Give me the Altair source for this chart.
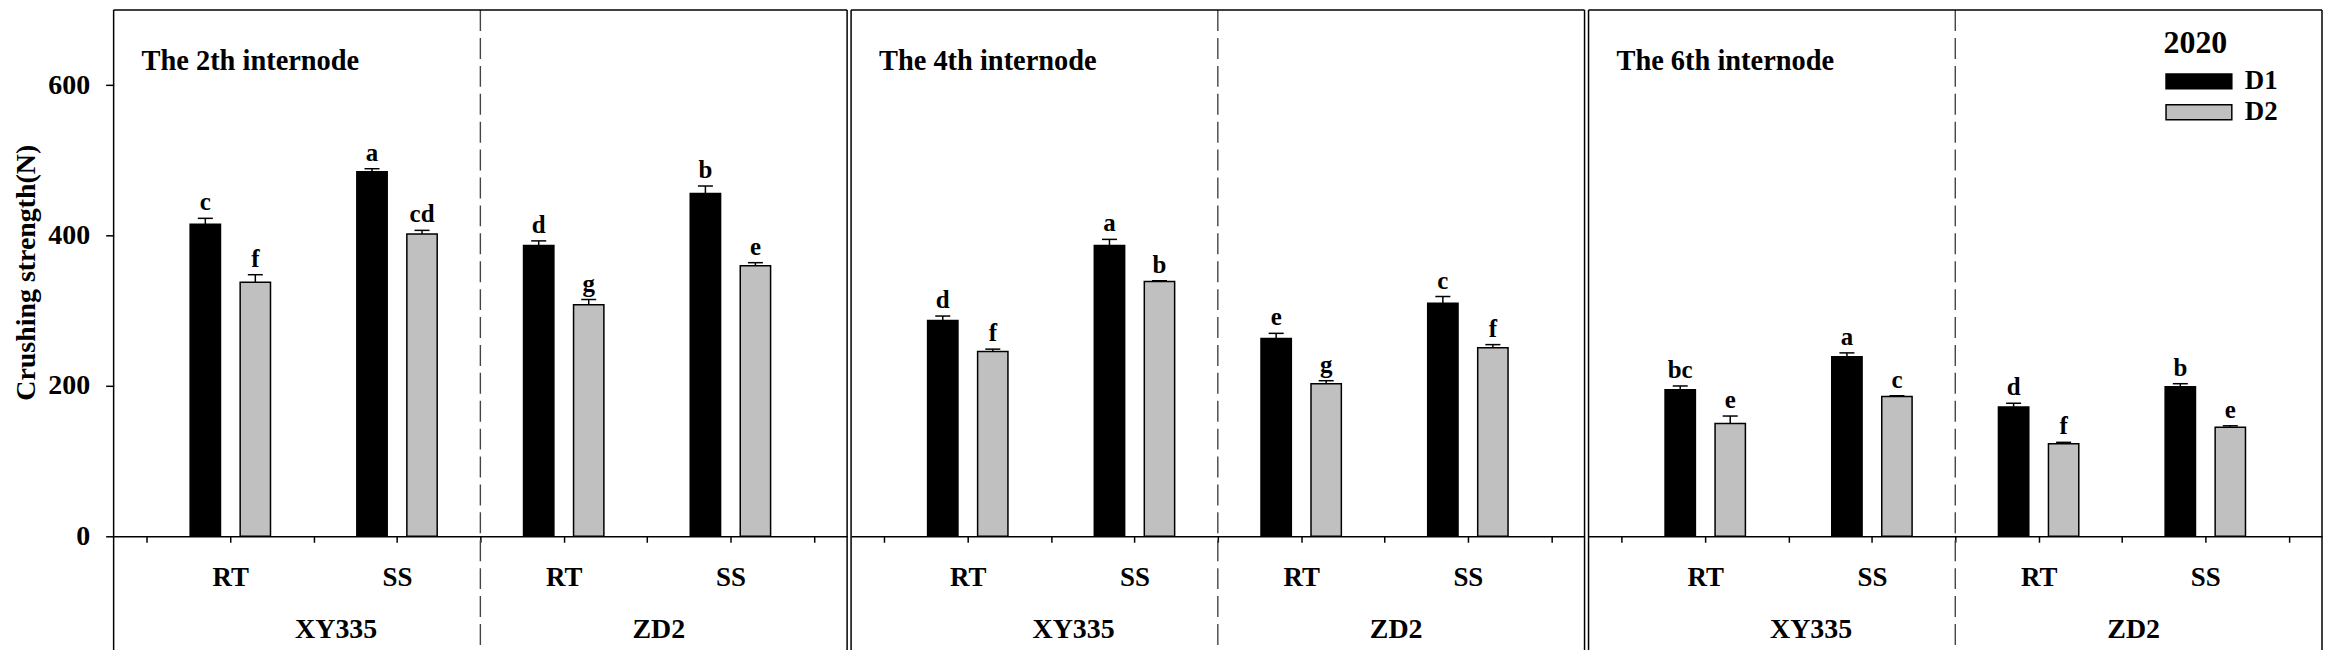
import altair as alt
import pandas as pd

# ---------------- data ----------------
panel_titles = ["The 2th internode", "The 4th internode", "The 6th internode"]
cultivars = ["XY335", "XY335", "ZD2", "ZD2"]
tillage = ["RT", "SS", "RT", "SS"]
densities = ["D1", "D2"]

d1_values = [[415, 485, 387, 456], [287, 387, 263, 310], [195, 239, 172, 199]]
d1_errors = [[8, 4, 6, 10], [6, 8, 7, 9], [5, 5, 5, 4]]
d1_letters = [["c", "a", "d", "b"], ["d", "a", "e", "c"], ["bc", "a", "d", "b"]]

d2_values = [[338, 402, 308, 360], [246, 339, 203, 251], [150, 186, 123, 145]]
d2_errors = [[10, 5, 7, 4], [3, 1, 4, 4], [10, 1, 2, 2]]
d2_letters = [["f", "cd", "g", "e"], ["f", "b", "g", "f"], ["e", "c", "f", "e"]]

group_names = ["XY335", "ZD2"]
y_ticks = [0, 200, 400, 600]
legend_title = "2020"

# ---------------- layout constants ----------------
FONT = "Liberation Serif"
X_DOMAIN = [0.6, 9.4]
Y_DOMAIN = [-151.1, 700]
PANEL_W = 736
PANEL_H = 642
BAR_OFFSET = 0.3
BAR_HALF = 0.182
CAP_HALF = 0.09
GROUP_X = [3.27, 7.14]
GROUP_Y = -124.6
DIVIDER_X = 5

xscale = alt.Scale(domain=X_DOMAIN, nice=False, zero=False)
yscale = alt.Scale(domain=Y_DOMAIN, nice=False, zero=False)
cscale = alt.Scale(domain=densities, range=["#000000", "#c0c0c0"])

x_axis = alt.Axis(
    values=list(range(1, 10)),
    labelExpr="datum.value == 2 || datum.value == 6 ? 'RT' : (datum.value == 4 || datum.value == 8 ? 'SS' : '')",
    title=None, grid=False, offset=-114,
    domainColor="black", domainWidth=1.5,
    tickColor="black", tickWidth=1.5, tickSize=6,
    labelFont=FONT, labelFontSize=27, labelFontWeight="bold", labelColor="black",
    labelPadding=22, labelFlush=False, labelOverlap=False,
)

y_axis_main = alt.Axis(
    values=y_ticks, title="Crushing strength(N)", grid=False, domain=False,
    tickColor="black", tickWidth=1.5, tickSize=8,
    labelFont=FONT, labelFontSize=28, labelFontWeight="bold", labelColor="black",
    labelPadding=16,
    titleFont=FONT, titleFontSize=28, titleFontWeight="bold", titleColor="black",
    titlePadding=7, titleY=263,
)

legend = alt.Legend(
    orient="none", legendX=2057, legendY=18, title=legend_title,
    titleFont=FONT, titleFontSize=32, titleFontWeight="bold", titleColor="black",
    titlePadding=8,
    labelFont=FONT, labelFontSize=27, labelFontWeight="bold", labelColor="black",
    labelOffset=32.5, rowPadding=3, padding=0,
    symbolType="M-3,-0.68H3V0.68H-3Z", symbolSize=484, symbolOffset=22,
    symbolStrokeColor="black", symbolStrokeWidth=1.5,
)


def panel(k):
    y_axis = y_axis_main if k == 0 else None
    rows = []
    for i in range(4):
        for d, vals, errs, lets in (
            ("D1", d1_values, d1_errors, d1_letters),
            ("D2", d2_values, d2_errors, d2_letters),
        ):
            centre = 2 * (i + 1) + (-BAR_OFFSET if d == "D1" else BAR_OFFSET)
            v = vals[k][i]
            e = errs[k][i]
            rows.append(dict(
                cultivar=cultivars[i], tillage=tillage[i], density=d,
                value=v, err=e, top=v + e, letter=lets[k][i],
                centre=centre, x1=centre - BAR_HALF, x2=centre + BAR_HALF,
                c1=centre - CAP_HALF, c2=centre + CAP_HALF,
            ))
    df = pd.DataFrame(rows)
    base = alt.Chart(df)

    def X(f):
        return alt.X(f, scale=xscale, axis=x_axis)

    def Y(f):
        return alt.Y(f, scale=yscale, axis=y_axis)

    bars = base.mark_bar(stroke="black", strokeWidth=1.5).encode(
        x=X("x1:Q"), x2="x2:Q",
        y=Y("value:Q"), y2=alt.datum(0),
        color=alt.Color("density:N", scale=cscale, legend=legend),
    )
    stems = base.mark_rule(color="black", strokeWidth=1.5).encode(
        x=X("centre:Q"), y=Y("value:Q"), y2="top:Q",
    )
    caps = base.mark_rule(color="black", strokeWidth=1.5).encode(
        x=X("c1:Q"), x2="c2:Q", y=Y("top:Q"),
    )
    letters = base.mark_text(
        font=FONT, fontSize=25, fontWeight="bold", color="black",
        baseline="alphabetic", dy=-8,
    ).encode(x=X("centre:Q"), y=Y("top:Q"), text="letter:N")
    divider = alt.Chart(pd.DataFrame({"x": [DIVIDER_X]})).mark_rule(
        color="#444444", strokeWidth=1.4, strokeDash=[21, 7]
    ).encode(x=X("x:Q"))
    sides = alt.Chart(pd.DataFrame({"x": X_DOMAIN})).mark_rule(
        color="black", strokeWidth=1.5
    ).encode(x=X("x:Q"))
    top = alt.Chart(pd.DataFrame({"y": [Y_DOMAIN[1]]})).mark_rule(
        color="black", strokeWidth=1.5
    ).encode(y=Y("y:Q"))
    groups = alt.Chart(pd.DataFrame({"name": group_names, "x": GROUP_X, "y": [GROUP_Y] * 2})).mark_text(
        font=FONT, fontSize=28, fontWeight="bold", color="black", baseline="middle"
    ).encode(x=X("x:Q"), y=Y("y:Q"), text="name:N")

    return alt.layer(bars, stems, caps, letters, divider, sides, top, groups).properties(
        width=PANEL_W, height=PANEL_H,
        title=alt.TitleParams(
            text=panel_titles[k], anchor="start", frame="group", orient="top",
            font=FONT, fontSize=28.5, fontWeight="bold", color="black",
            baseline="alphabetic", offset=0, dx=28, dy=89,
        ),
    )


chart = alt.hconcat(*[panel(k) for k in range(3)], spacing=2).properties(
    padding={"left": 5, "top": 0, "right": 0, "bottom": 0}
).configure_view(stroke=None)

chart.save("out.html", embed_options={"renderer": "svg", "actions": False})
